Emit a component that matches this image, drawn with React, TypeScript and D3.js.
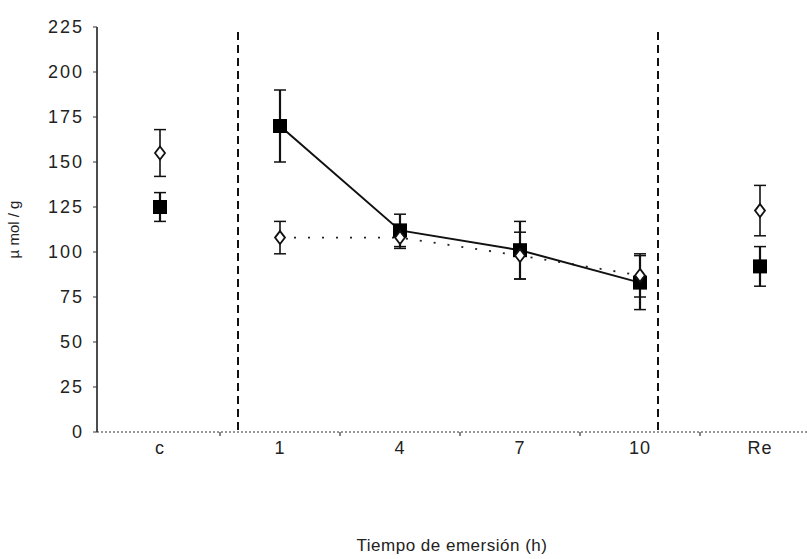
import React, { useEffect, useRef } from 'react';
import * as d3 from 'd3';

// categories on the x axis
const categories = ['c', '1', '4', '7', '10', 'Re'];

// filled squares (solid line over the emersion hours)
const squareMean = [125, 170, 112, 101, 83, 92];
const squareErr = [8, 20, 9, 16, 15, 11];

// open diamonds (dotted line over the emersion hours)
const diamondMean = [155, 108, 108, 98, 87, 123];
const diamondErr = [13, 9, 6, 13, 12, 14];

// y ticks
const yTicks = [0, 25, 50, 75, 100, 125, 150, 175, 200, 225];

// dashed separators, in category units (0 = "c")
const separators = [0.65, 4.15];

// which categories are joined by the lines
const joined = ['1', '4', '7', '10'];

export default function App() {
    const ref = useRef<SVGSVGElement>(null);

    useEffect(() => {
        const svg = d3.select(ref.current);
        svg.selectAll('*').remove();

        const width = 807;
        const height = 559;
        const font = '"Liberation Sans", Arial, sans-serif';

        var y = d3.scaleLinear().domain([0, 225]).range([432, 27]);
        var x = d3.scalePoint<string>().domain(categories).range([160, 760]);
        const step = x.step();

        svg.append('rect').attr('width', width).attr('height', height).attr('fill', 'white');

        // y axis
        svg.append('line')
            .attr('x1', 97).attr('x2', 97)
            .attr('y1', y(225)).attr('y2', y(0))
            .attr('stroke', '#111').attr('stroke-width', 1.5);

        svg.selectAll('.ytick')
            .data(yTicks)
            .enter()
            .append('line')
            .attr('x1', 93).attr('x2', 97)
            .attr('y1', d => y(d)).attr('y2', d => y(d))
            .attr('stroke', '#333').attr('stroke-width', 1);

        svg.selectAll('.ylabel')
            .data(yTicks)
            .enter()
            .append('text')
            .attr('x', 84)
            .attr('y', d => y(d))
            .attr('dy', '0.35em')
            .attr('text-anchor', 'end')
            .attr('font-family', font)
            .attr('font-size', 18)
            .attr('letter-spacing', 2)
            .attr('fill', '#222')
            .text(d => d);

        // x axis (dotted)
        svg.append('line')
            .attr('x1', 97).attr('x2', width)
            .attr('y1', y(0)).attr('y2', y(0))
            .attr('stroke', '#333').attr('stroke-width', 1.2)
            .attr('stroke-dasharray', '2,2');

        // small ticks between categories
        svg.selectAll('.xtick')
            .data(categories.slice(0, -1))
            .enter()
            .append('line')
            .attr('x1', d => x(d)! + step / 2).attr('x2', d => x(d)! + step / 2)
            .attr('y1', y(0)).attr('y2', y(0) + 4)
            .attr('stroke', '#333').attr('stroke-width', 1.2);

        svg.selectAll('.xlabel')
            .data(categories)
            .enter()
            .append('text')
            .attr('x', d => x(d)!)
            .attr('y', 454)
            .attr('text-anchor', 'middle')
            .attr('font-family', font)
            .attr('font-size', 18)
            .attr('letter-spacing', 1)
            .attr('fill', '#222')
            .text(d => d);

        // dashed separators
        svg.selectAll('.sep')
            .data(separators)
            .enter()
            .append('line')
            .attr('x1', d => x('c')! + d * step).attr('x2', d => x('c')! + d * step)
            .attr('y1', 32).attr('y2', y(0) + 2)
            .attr('stroke', '#111').attr('stroke-width', 2)
            .attr('stroke-dasharray', '8,5');

        // series table
        const rows = categories.map((c, i) => ({
            cat: c,
            sq: squareMean[i], sqErr: squareErr[i],
            di: diamondMean[i], diErr: diamondErr[i],
        }));
        const linked = rows.filter(r => joined.includes(r.cat));

        // dotted line for diamonds
        svg.append('path')
            .datum(linked)
            .attr('fill', 'none')
            .attr('stroke', '#222')
            .attr('stroke-width', 1.8)
            .attr('stroke-dasharray', '2,12')
            .attr('d', d3.line<any>().x(d => x(d.cat)!).y(d => y(d.di)));

        // solid line for squares
        svg.append('path')
            .datum(linked)
            .attr('fill', 'none')
            .attr('stroke', '#111')
            .attr('stroke-width', 2)
            .attr('d', d3.line<any>().x(d => x(d.cat)!).y(d => y(d.sq)));

        const errorBars = (key: 'sq' | 'di', errKey: 'sqErr' | 'diErr', sw: number) => {
            const g = svg.append('g');
            rows.forEach(r => {
                const cx = x(r.cat)!;
                const top = y(r[key] + r[errKey]);
                const bot = y(r[key] - r[errKey]);
                g.append('line').attr('x1', cx).attr('x2', cx).attr('y1', top).attr('y2', bot)
                    .attr('stroke', '#111').attr('stroke-width', sw);
                [top, bot].forEach(yy => {
                    g.append('line').attr('x1', cx - 6).attr('x2', cx + 6).attr('y1', yy).attr('y2', yy)
                        .attr('stroke', '#111').attr('stroke-width', 1.5);
                });
            });
        };

        errorBars('sq', 'sqErr', 2.2);
        errorBars('di', 'diErr', 1.6);

        // squares
        svg.selectAll('.sq')
            .data(rows)
            .enter()
            .append('rect')
            .attr('x', d => x(d.cat)! - 7)
            .attr('y', d => y(d.sq) - 7)
            .attr('width', 14)
            .attr('height', 14)
            .attr('fill', '#000');

        // diamonds
        svg.selectAll('.di')
            .data(rows)
            .enter()
            .append('path')
            .attr('transform', d => `translate(${x(d.cat)},${y(d.di)})`)
            .attr('d', 'M0,-6.5L5,0L0,6.5L-5,0Z')
            .attr('fill', 'white')
            .attr('stroke', '#111')
            .attr('stroke-width', 1.8);

        // axis titles, centred on the plot area
        svg.append('text')
            .attr('transform', `translate(19,${(y(0) + y(225)) / 2}) rotate(-90)`)
            .attr('text-anchor', 'middle')
            .attr('font-family', font)
            .attr('font-size', 15)
            .attr('fill', '#222')
            .text('µ mol / g');

        svg.append('text')
            .attr('x', (97 + width) / 2)
            .attr('y', 551)
            .attr('text-anchor', 'middle')
            .attr('font-family', font)
            .attr('font-size', 17)
            .attr('letter-spacing', 0.5)
            .attr('fill', '#222')
            .text('Tiempo de emersión (h)');
    }, []);

    return (
        <div style={{ position: 'absolute', left: 0, top: 0 }}>
            <svg ref={ref} width={807} height={559} style={{ display: 'block' }} />
        </div>
    );
}
